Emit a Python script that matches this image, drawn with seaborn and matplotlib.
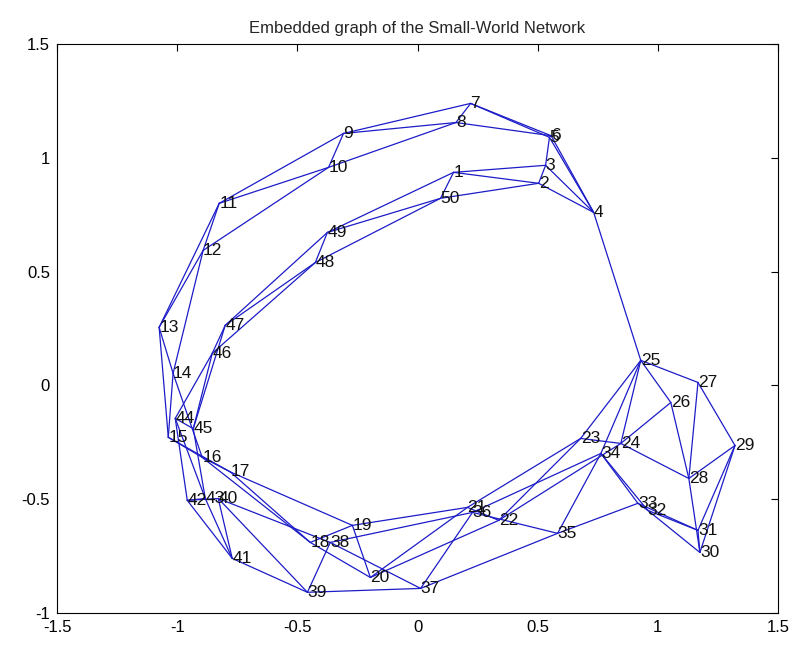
import matplotlib
matplotlib.use("Agg")
import matplotlib.pyplot as plt
import seaborn as sns
import pandas as pd

# Node positions (node id 1..50)
node_ids = list(range(1, 51))
node_x = [0.15, 0.504, 0.533, 0.733, 0.549, 0.556, 0.221, 0.16, -0.308, -0.37,
          -0.825, -0.892, -1.075, -1.017, -1.037, -0.896, -0.779, -0.446, -0.271, -0.196,
          0.208, 0.338, 0.679, 0.846, 0.929, 1.054, 1.167, 1.129, 1.321, 1.175,
          1.167, 0.958, 0.917, 0.763, 0.583, 0.229, 0.013, -0.363, -0.458, -0.829,
          -0.771, -0.958, -0.883, -1.008, -0.933, -0.854, -0.8, -0.425, -0.375, 0.096]
node_y = [0.936, 0.888, 0.967, 0.76, 1.09, 1.097, 1.239, 1.155, 1.107, 0.958,
          0.80, 0.593, 0.255, 0.053, -0.228, -0.316, -0.38, -0.69, -0.615, -0.844,
          -0.536, -0.593, -0.233, -0.255, 0.11, -0.075, 0.013, -0.409, -0.264, -0.734,
          -0.637, -0.549, -0.518, -0.299, -0.65, -0.558, -0.892, -0.69, -0.909, -0.497,
          -0.76, -0.505, -0.497, -0.145, -0.19, 0.141, 0.264, 0.54, 0.672, 0.822]

# Edges
edge_src = [1, 1, 2, 2, 3, 3, 4, 4, 5, 5, 6, 6, 7, 7, 8, 8, 9, 9, 10, 10,
            11, 11, 12, 12, 13, 13, 14, 14, 15, 15, 16, 16, 17, 17, 18, 18, 19, 19, 20, 20,
            21, 21, 22, 22, 23, 23, 24, 24, 25, 25, 26, 27, 27, 28, 28, 29, 29, 30, 30,
            31, 31, 32, 32, 33, 33, 34, 34, 35, 35, 36, 36, 37, 37, 38, 38, 39, 39, 40, 40,
            41, 41, 42, 42, 43, 43, 44, 44, 45, 45, 46, 46, 47, 47, 48, 48, 49, 49, 50, 50,
            4, 24, 25]
edge_dst = [2, 3, 3, 4, 4, 5, 5, 6, 6, 7, 7, 8, 8, 9, 9, 10, 10, 11, 11, 12,
            12, 13, 13, 14, 14, 15, 15, 16, 16, 17, 17, 18, 18, 19, 19, 20, 20, 21, 21, 22,
            22, 23, 23, 24, 24, 25, 25, 26, 26, 27, 28, 28, 29, 29, 30, 30, 31, 31, 32,
            32, 33, 33, 34, 34, 35, 35, 36, 36, 37, 37, 38, 38, 39, 39, 40, 40, 41, 41, 42,
            42, 43, 43, 44, 44, 45, 45, 46, 46, 47, 47, 48, 48, 49, 49, 50, 50, 1, 1, 2,
            25, 28, 34]

x_ticks = [-1.5, -1, -0.5, 0, 0.5, 1, 1.5]
y_ticks = [-1, -0.5, 0, 0.5, 1, 1.5]
x_tick_labels = ["-1.5", "-1", "-0.5", "0", "0.5", "1", "1.5"]
y_tick_labels = ["-1", "-0.5", "0", "0.5", "1", "1.5"]
title_text = "Embedded graph of the Small-World Network"

sns.set_style("white")
plt.rcParams['font.family'] = ['Liberation Sans', 'DejaVu Sans']

pos = {n: (x, y) for n, x, y in zip(node_ids, node_x, node_y)}
rows = []
for k, (a, b) in enumerate(zip(edge_src, edge_dst)):
    rows.append({"edge": k, "order": 0, "x": pos[a][0], "y": pos[a][1]})
    rows.append({"edge": k, "order": 1, "x": pos[b][0], "y": pos[b][1]})
df = pd.DataFrame(rows)

fig = plt.figure(figsize=(7.98, 6.49), dpi=100)
ax = fig.add_axes([57/798, 1 - 613/649, (778 - 57)/798, (613 - 44)/649])
sns.lineplot(data=df, x="x", y="y", units="edge", estimator=None, sort=False,
             color="#1c1cc8", linewidth=0.9, ax=ax, legend=False)

for n, x, y in zip(node_ids, node_x, node_y):
    ax.text(x, y, str(n), fontsize=12.5, ha="left", va="center", color="#111111")

ax.set_xlim(-1.5, 1.5)
ax.set_ylim(-1, 1.5)
ax.set_xticks(x_ticks)
ax.set_xticklabels(x_tick_labels)
ax.set_yticks(y_ticks)
ax.set_yticklabels(y_tick_labels)
ax.set_xlabel("")
ax.set_ylabel("")
ax.tick_params(direction="in", length=5, width=0.8, top=True, right=True,
               labelsize=12, colors="black", pad=5)
for s in ax.spines.values():
    s.set_visible(True)
    s.set_color("black")
    s.set_linewidth(0.8)
ax.set_title(title_text, fontsize=12, pad=8)

fig.savefig("out.png", dpi=100, facecolor="white")
